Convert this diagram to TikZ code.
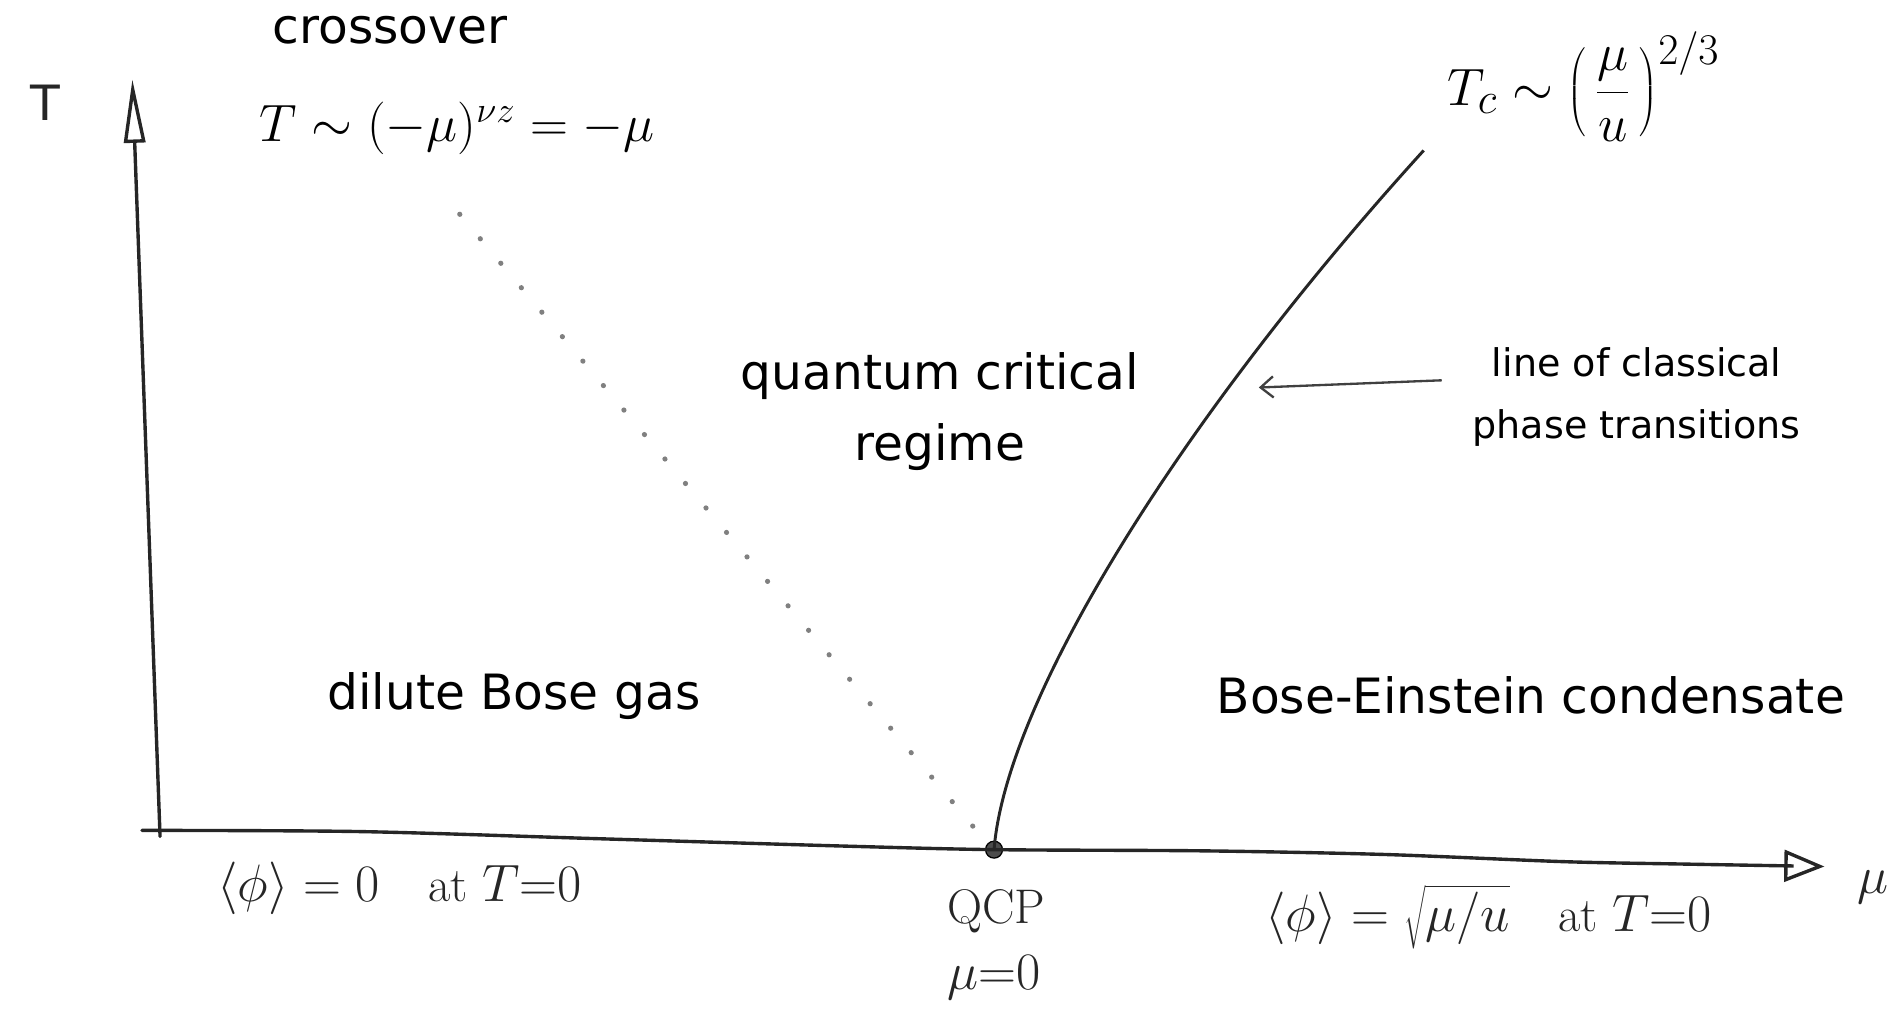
\documentclass[tikz,border=0pt]{standalone}
\usepackage{fontspec}
\setsansfont{DejaVu Sans}
\usetikzlibrary{arrows.meta}
\begin{document}
\begin{tikzpicture}[x=0.2mm,y=-0.2mm,
  axisline/.style={line width=1.6pt, black!85, line cap=round},
  tcline/.style={line width=1.4pt, black!85},
  crossline/.style={line width=2.4pt, black!50, line cap=round, dash pattern=on 0.1pt off 15pt},
  biglabel/.style={font=\sffamily\fontsize{23}{34}\selectfont, align=center, inner sep=0pt},
  smalllabel/.style={font=\sffamily\fontsize{18}{29}\selectfont, align=center, inner sep=0pt},
  mathlabel/.style={font=\fontsize{25}{30}\selectfont, inner sep=0pt},
  handlabel/.style={font=\fontsize{23}{28}\selectfont, inner sep=0pt, black!85},
]
\useasboundingbox (0,0) rectangle (1568,842);

% coordinates
\coordinate (tbot) at (133,695);
\coordinate (ttop) at (110,66);
\coordinate (mstart) at (118,690);
\coordinate (mend) at (1516,720);
\coordinate (cstart) at (382,178);
\coordinate (cend) at (818,698);
\coordinate (tcend) at (1183,125);
\coordinate (arrstart) at (1198,316);
\coordinate (arrend) at (1046,322);

% QCP dot
\node[circle, fill=black!70, draw=black, line width=0.6pt, inner sep=0pt, minimum size=8pt] (qcp) at (826,706) {};

% axes
\draw[axisline, -{Triangle[open, length=30pt, width=10pt]}] (tbot) -- (ttop);
\draw[axisline, -{Triangle[open, length=19pt, width=15pt]}]
  plot[smooth, tension=0.5] coordinates {(mstart) (300,691) (500,697) (700,703) (qcp.center) (1000,707) (1150,710) (1300,716) (1400,718) (mend)};

% crossover dotted line
\draw[crossline] (cstart) -- (cend);

% Tc line
\draw[tcline] (qcp.center) .. controls (836,580) and (983,345) .. (tcend);

% small arrow to the line
\draw[line width=1.1pt, black!75, -{Straight Barb[length=6pt,width=10pt]}] (arrstart) -- (arrend);

% texts
\node[biglabel] (crossover) at (324,25) {crossover};
\node[mathlabel] (tform) at (380,107) {$T\sim(-\mu)^{\nu z}=-\mu$};
\node[inner sep=0pt, font=\fontsize{29}{34}\selectfont] (tcform) at (1316,72) {$\displaystyle T_c\sim\left(\,\frac{\mu}{u}\,\right)^{2/3}$};
\node[biglabel] (qcr) at (781,342) {quantum critical\\regime};
\node[smalllabel] (lcpt) at (1360,330) {line of classical\\phase transitions};
\node[biglabel] (dbg) at (427,578) {dilute Bose gas};
\node[biglabel] (bec) at (1272,578) {Bose-Einstein condensate};

\node[handlabel] (tlab) at (38,85) {\sffamily T};
\node[handlabel] (mulab) at (1556,737) {$\mu$};
\node[handlabel] (phizero) at (332,738) {$\langle\phi\rangle=0$\quad at $T{=}0$};
\node[handlabel] (qcplab) at (828,757) {QCP};
\node[handlabel] (muzero) at (826,812) {$\mu{=}0$};
\node[handlabel] (phinz) at (1237,762) {$\langle\phi\rangle=\sqrt{\mu/u}$\quad at $T{=}0$};
\end{tikzpicture}
\end{document}
